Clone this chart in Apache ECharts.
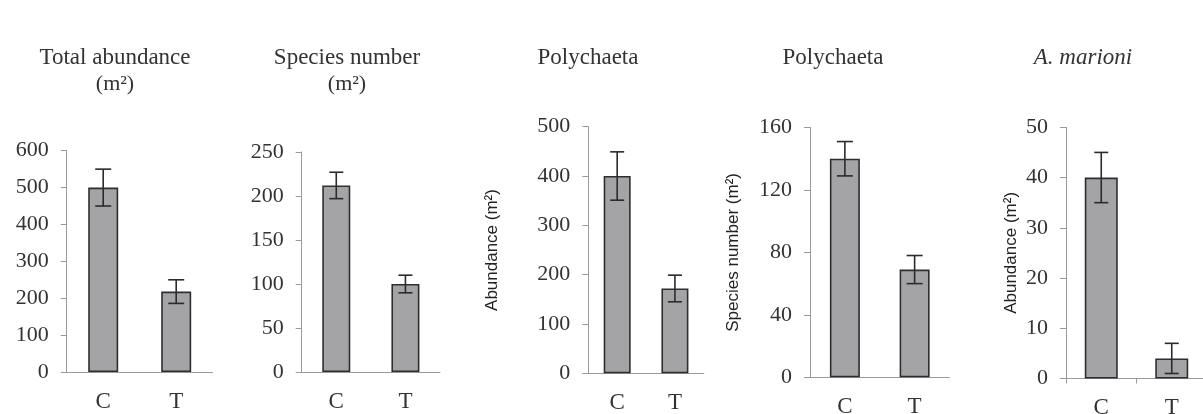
<!DOCTYPE html>
<html>
<head>
<meta charset="utf-8">
<script src="https://cdn.jsdelivr.net/npm/echarts@6/dist/echarts.min.js"></script>
<style>
html,body{margin:0;padding:0;background:#fff;}
#chart{width:1203px;height:414px;}
</style>
</head>
<body>
<div id="chart"></div>
<script>
// ---- data ----
const categories = ['C', 'T'];

const totalAbundance = [500, 218];
const totalAbundanceErr = [50, 32];

const speciesNumber = [212, 100];
const speciesNumberErr = [15, 10];

const polyAbundance = [400, 172];
const polyAbundanceErr = [49, 27];

const polySpecies = [140, 69];
const polySpeciesErr = [11, 9];

const marioniAbundance = [40, 4];
const marioniAbundanceErr = [5, 3];

const titles = ['Total abundance', 'Species number', 'Polychaeta', 'Polychaeta', 'A. marioni'];
const subTitles = ['(m²)', '(m²)', '', '', ''];
const yNames = ['', '', 'Abundance (m²)', 'Species number (m²)', 'Abundance (m²)'];
const yMax = [600, 250, 500, 160, 50];
const yInterval = [100, 50, 100, 40, 10];

// ---- layout ----
const panels = [
  {vals: totalAbundance, errs: totalAbundanceErr, left: 66.7, top: 150.7, width: 146, height: 221.3, barW: 30, cap: 8, nameGap: 0, tx: 115, xTick: false},
  {vals: speciesNumber, errs: speciesNumberErr, left: 301.7, top: 152, width: 138.3, height: 220, barW: 28, cap: 7, nameGap: 0, tx: 347, xTick: false},
  {vals: polyAbundance, errs: polyAbundanceErr, left: 588.3, top: 126.7, width: 115.5, height: 246.6, barW: 27, cap: 7, nameGap: 87, tx: 588, xTick: false},
  {vals: polySpecies, errs: polySpeciesErr, left: 810, top: 127.5, width: 139.5, height: 249.8, barW: 30, cap: 8, nameGap: 68, tx: 833, xTick: false},
  {vals: marioniAbundance, errs: marioniAbundanceErr, left: 1066, top: 127.3, width: 141, height: 251.2, barW: 33, cap: 7, nameGap: 46, tx: 1083, xTick: true}
];

const serif = '"Liberation Serif", "Times New Roman", serif';
const sans = '"Liberation Sans", Arial, sans-serif';
const textColor = '#333';
const axisGray = '#9a9a9a';

const grid = [], xAxis = [], yAxis = [], series = [], graphic = [];

panels.forEach((p, i) => {
  grid.push({left: p.left, top: p.top, width: p.width, height: p.height, containLabel: false, outerBoundsMode: 'none'});
  xAxis.push({
    type: 'category', gridIndex: i, data: categories,
    axisLine: {lineStyle: {color: axisGray, width: 1}},
    axisTick: {show: p.xTick, length: 5, lineStyle: {color: axisGray}},
    axisLabel: {color: textColor, fontFamily: serif, fontSize: 23, margin: 18}
  });
  yAxis.push({
    type: 'value', gridIndex: i, min: 0, max: yMax[i], interval: yInterval[i],
    name: yNames[i], nameLocation: 'middle', nameGap: p.nameGap,
    nameTextStyle: {color: '#222', fontFamily: sans, fontSize: 17},
    axisLine: {show: true, lineStyle: {color: axisGray, width: 1}},
    axisTick: {show: true, length: 6, lineStyle: {color: axisGray}},
    splitLine: {show: false},
    axisLabel: {color: textColor, fontFamily: serif, fontSize: 22, margin: 18}
  });
  series.push({
    type: 'bar', xAxisIndex: i, yAxisIndex: i, data: p.vals, barWidth: p.barW,
    itemStyle: {color: '#a4a4a7', borderColor: '#2e2e2e', borderWidth: 1.6},
    silent: true
  });
  const errData = p.vals.map((v, k) => [k, v - p.errs[k], v + p.errs[k]]);
  series.push({
    type: 'custom', xAxisIndex: i, yAxisIndex: i, data: errData, z: 10, silent: true,
    renderItem: (params, api) => {
      const x = api.value(0);
      const lo = api.coord([x, api.value(1)]);
      const hi = api.coord([x, api.value(2)]);
      const c = p.cap;
      const st = {stroke: '#2b2b2b', lineWidth: 1.6};
      return {type: 'group', children: [
        {type: 'line', shape: {x1: lo[0], y1: lo[1], x2: hi[0], y2: hi[1]}, style: st},
        {type: 'line', shape: {x1: hi[0] - c, y1: hi[1], x2: hi[0] + c, y2: hi[1]}, style: st},
        {type: 'line', shape: {x1: lo[0] - c, y1: lo[1], x2: lo[0] + c, y2: lo[1]}, style: st}
      ]};
    }
  });
  graphic.push({
    type: 'text', x: p.tx, y: 58,
    style: {text: titles[i], fill: textColor, font: (i === 4 ? 'italic ' : '') + '23px ' + serif, textAlign: 'center', textVerticalAlign: 'middle'}
  });
  if (subTitles[i]) {
    graphic.push({
      type: 'text', x: p.tx, y: 84,
      style: {text: subTitles[i], fill: textColor, font: '22px ' + serif, textAlign: 'center', textVerticalAlign: 'middle'}
    });
  }
});

const chart = echarts.init(document.getElementById('chart'), null, {renderer: 'canvas'});
chart.setOption({
  backgroundColor: '#ffffff',
  animation: false,
  grid, xAxis, yAxis, series, graphic
});
</script>
</body>
</html>
